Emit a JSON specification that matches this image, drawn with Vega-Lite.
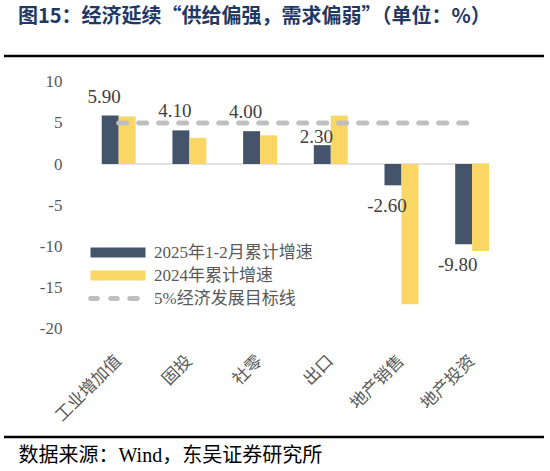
{
  "$schema": "https://vega.github.io/schema/vega-lite/v6.json",
  "autosize": "none",
  "width": 540,
  "height": 381,
  "padding": {"left": 4, "top": 56, "right": 6, "bottom": 34},
  "background": "white",
  "title": {
    "text": "图15：经济延续“供给偏强，需求偏弱”（单位：%）",
    "anchor": "start",
    "frame": "group",
    "dx": 14,
    "offset": 28,
    "fontSize": 20,
    "fontWeight": "bold",
    "font": "Noto Sans CJK SC",
    "color": "#1F3864"
  },
  "datasets": {
    "bars": [
      {"cat": "工业增加值", "series": "2025年1-2月累计增速", "value": 5.9},
      {"cat": "工业增加值", "series": "2024年累计增速", "value": 5.8},
      {"cat": "固投", "series": "2025年1-2月累计增速", "value": 4.1},
      {"cat": "固投", "series": "2024年累计增速", "value": 3.2},
      {"cat": "社零", "series": "2025年1-2月累计增速", "value": 4.0},
      {"cat": "社零", "series": "2024年累计增速", "value": 3.5},
      {"cat": "出口", "series": "2025年1-2月累计增速", "value": 2.3},
      {"cat": "出口", "series": "2024年累计增速", "value": 5.9},
      {"cat": "地产销售", "series": "2025年1-2月累计增速", "value": -2.6},
      {"cat": "地产销售", "series": "2024年累计增速", "value": -17.1},
      {"cat": "地产投资", "series": "2025年1-2月累计增速", "value": -9.8},
      {"cat": "地产投资", "series": "2024年累计增速", "value": -10.6}
    ],
    "target": [
      {"cat": "工业增加值", "series": "5%经济发展目标线", "value": 5},
      {"cat": "固投", "series": "5%经济发展目标线", "value": 5},
      {"cat": "社零", "series": "5%经济发展目标线", "value": 5},
      {"cat": "出口", "series": "5%经济发展目标线", "value": 5},
      {"cat": "地产销售", "series": "5%经济发展目标线", "value": 5},
      {"cat": "地产投资", "series": "5%经济发展目标线", "value": 5}
    ]
  },
  "encoding": {
    "y": {
      "type": "quantitative",
      "scale": {"domain": [-33.29, 13.17], "nice": false, "zero": false},
      "axis": {
        "title": null,
        "values": [-20, -15, -10, -5, 0, 5, 10],
        "labelExpr": "'' + datum.value",
        "grid": false,
        "domain": false,
        "ticks": false,
        "offset": -63,
        "labelPadding": 5,
        "labelFont": "Liberation Serif, Noto Sans CJK SC",
        "labelFontSize": 17,
        "labelColor": "#595959"
      }
    }
  },
  "layer": [
    {
      "data": {"values": [{}]},
      "mark": {"type": "rule", "color": "black", "strokeWidth": 2.5},
      "encoding": {"y": {"datum": 13.17}}
    },
    {
      "data": {"values": [{}]},
      "mark": {"type": "rule", "color": "black", "strokeWidth": 2.5},
      "encoding": {"y": {"datum": -33.29}}
    },
    {
      "data": {"values": [{}]},
      "mark": {"type": "rule", "color": "#D9D9D9", "strokeWidth": 1.5},
      "encoding": {
        "x": {"datum": "工业增加值", "bandPosition": 0, "type": "nominal"},
        "x2": {"datum": "地产投资", "bandPosition": 1},
        "y": {"datum": 0}
      }
    },
    {
      "data": {"name": "bars"},
      "mark": {"type": "bar"},
      "encoding": {
        "x": {
          "field": "cat",
          "type": "nominal",
          "scale": {
            "domain": ["工业增加值", "固投", "社零", "出口", "地产销售", "地产投资"],
            "range": [79.35, 503.5],
            "paddingInner": 0.52,
            "paddingOuter": 0.26
          },
          "axis": {
            "title": "数据来源：Wind，东吴证券研究所",
            "titleX": 14,
            "titleY": 101,
            "titleAlign": "left",
            "titleBaseline": "middle",
            "titleAngle": 0,
            "titleFont": "Liberation Serif, Noto Sans CJK SC",
            "titleFontSize": 20,
            "titleFontWeight": "normal",
            "titleColor": "black",
            "labelAngle": -45,
            "labelAlign": "right",
            "labelBaseline": "middle",
            "labelPadding": 4,
            "offset": -83,
            "domain": false,
            "ticks": false,
            "grid": false,
            "labelFont": "Liberation Serif, Noto Sans CJK SC",
            "labelFontSize": 17,
            "labelColor": "#595959"
          }
        },
        "xOffset": {
          "field": "series",
          "type": "nominal",
          "scale": {"domain": ["2025年1-2月累计增速", "2024年累计增速"], "paddingInner": 0, "paddingOuter": 0}
        },
        "y": {"field": "value"},
        "color": {
          "field": "series",
          "type": "nominal",
          "scale": {
            "domain": ["2025年1-2月累计增速", "2024年累计增速", "5%经济发展目标线"],
            "range": ["#44546A", "#FAD764", "#BFBFBF"]
          },
          "legend": {
            "title": null,
            "orient": "none",
            "legendX": 83,
            "legendY": 188,
            "padding": 0,
            "symbolSize": 100,
            "labelOffset": 50,
            "rowPadding": 5,
            "labelFont": "Liberation Serif, Noto Sans CJK SC",
            "labelFontSize": 17,
            "labelColor": "#595959",
            "labelLimit": 300,
            "encode": {
              "symbols": {
                "update": {
                  "shape": {"signal": "datum.label === '5%经济发展目标线' ? 'M-0.96,-0.5H0.38A0.5,0.5 0 0 1 0.38,0.5H-0.96A0.5,0.5 0 0 1 -0.96,-0.5Z M3.04,-0.5H4.38A0.5,0.5 0 0 1 4.38,0.5H3.04A0.5,0.5 0 0 1 3.04,-0.5Z M6.84,-0.5H8.38A0.5,0.5 0 0 1 8.38,0.5H6.84A0.5,0.5 0 0 1 6.84,-0.5Z' : 'M-1,-1H10V1H-1Z'"},
                  "fill": {"scale": "color", "field": "value"},
                  "stroke": {"value": "transparent"},
                  "strokeWidth": {"value": 0},
                  "opacity": {"value": 1}
                }
              }
            }
          }
        }
      }
    },
    {
      "data": {"name": "target"},
      "mark": {"type": "line", "strokeWidth": 5, "strokeDash": [8, 12], "strokeCap": "round"},
      "encoding": {
        "x": {"field": "cat", "type": "nominal"},
        "y": {"field": "value"},
        "color": {"field": "series", "type": "nominal"}
      }
    },
    {
      "data": {"name": "bars"},
      "transform": [{"filter": "datum.series === '2025年1-2月累计增速'"}],
      "mark": {
        "type": "text",
        "baseline": "middle",
        "dx": -6,
        "dy": {"expr": "datum.value < 0 ? 21 : (datum.value < 3 ? -8 : -19)"},
        "text": {"expr": "replace(format(datum.value, '.2f'), '\u2212', '-')"},
        "font": "Liberation Serif, Noto Sans CJK SC",
        "fontSize": 19,
        "color": "#404040"
      },
      "encoding": {
        "x": {"field": "cat", "type": "nominal"},
        "xOffset": {"field": "series", "type": "nominal"},
        "y": {"field": "value"}
      }
    }
  ],
  "config": {
    "view": {"stroke": null}
  }
}
